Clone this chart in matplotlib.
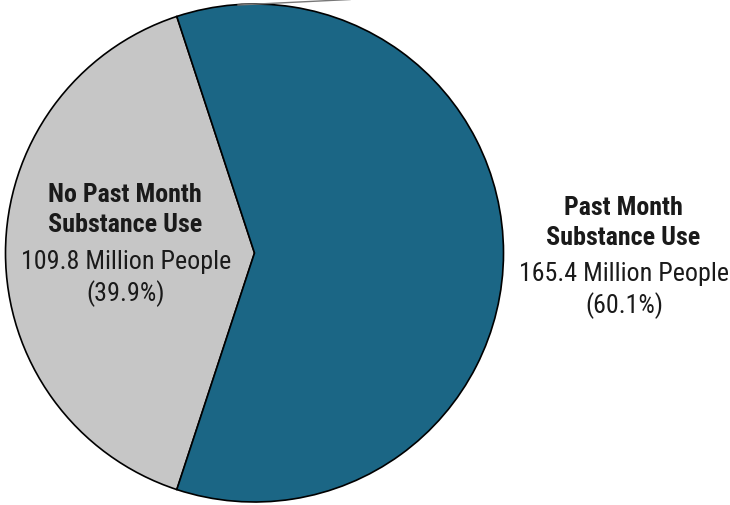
#!/usr/bin/env python3

import matplotlib
matplotlib.use('Agg')
import matplotlib.pyplot as plt

# data
labels = ['No Past Month\nSubstance Use', 'Past Month\nSubstance Use']
people = [109.8, 165.4]   # million people
shares = ['39.9%', '60.1%']
colors = ['#c6c6c6', '#1b6685']

W, H = 730, 505


def main():
    plt.rcParams['font.family'] = ['Roboto Condensed', 'DejaVu Sans']

    fig = plt.figure(figsize=(W / 100, H / 100), dpi=100)
    ax = fig.add_axes([0, 0, 1, 1])

    # grey wedge on the left, centred at 180 deg
    start = 180 - 360 * people[0] / sum(people) / 2
    ax.pie(people, colors=colors, startangle=start, counterclock=True,
           radius=249, center=(254.5, 252),
           wedgeprops=dict(edgecolor='black', linewidth=1.2))

    # bit of a leader line sticking in at the top
    ax.plot([238, 350], [H - 5, H + 0.5], color='#777777', lw=1.0)

    txt = '#1a1a1a'
    fs = 18.7
    ls = 1.3
    # left label (inside grey)
    ax.text(125, H - 210, labels[0], ha='center', va='center', fontsize=fs,
            fontweight='bold', color=txt, linespacing=ls)
    ax.text(126, H - 278.5, f'{people[0]} Million People\n({shares[0]})',
            ha='center', va='center', fontsize=fs, color=txt, linespacing=ls)

    # right label (outside)
    ax.text(623, H - 223, labels[1], ha='center', va='center', fontsize=fs,
            fontweight='bold', color=txt, linespacing=ls)
    ax.text(624, H - 290.5, f'{people[1]} Million People\n({shares[1]})',
            ha='center', va='center', fontsize=fs, color=txt, linespacing=ls)

    ax.set_xlim(0, W)
    ax.set_ylim(0, H)
    ax.set_aspect('auto')
    ax.axis('off')

    fig.savefig('out.png', dpi=100)


if __name__ == "__main__":
    main()
